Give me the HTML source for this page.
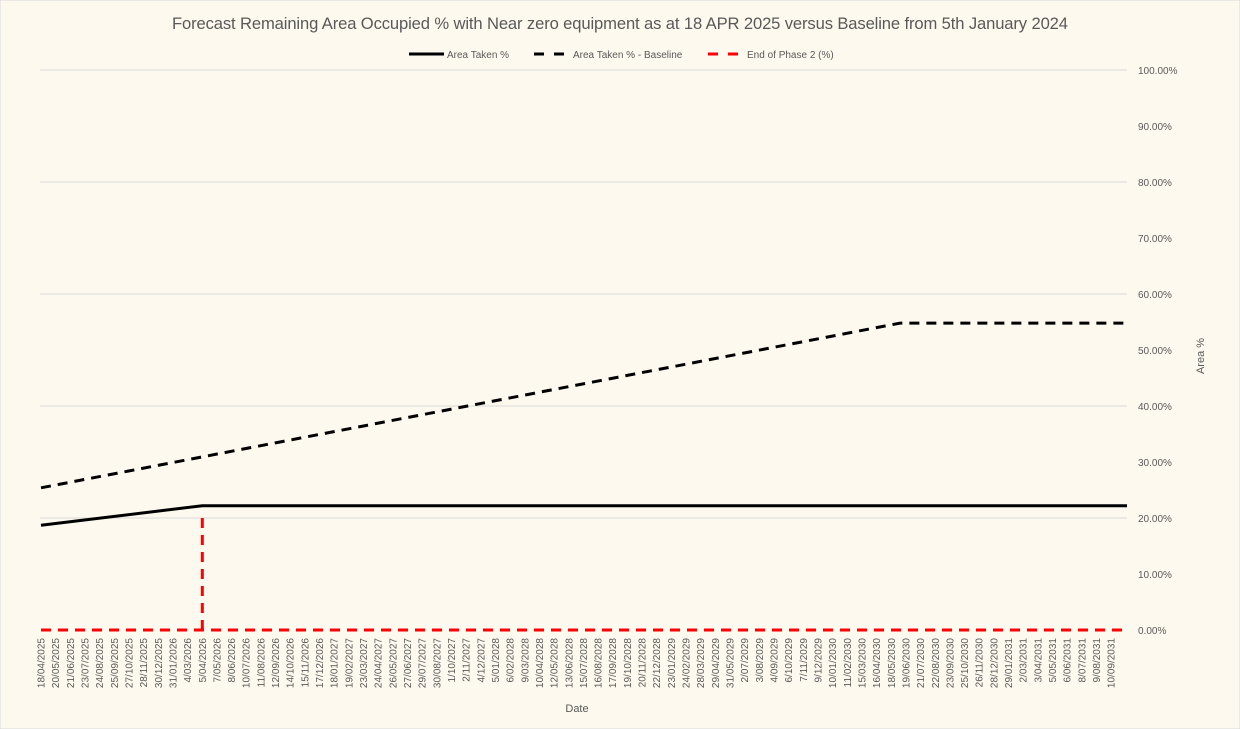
<!DOCTYPE html>
<html><head><meta charset="utf-8"><style>
html,body{margin:0;padding:0;background:#fdf9ee;}
svg{display:block;font-family:"Liberation Sans",sans-serif;}
</style></head><body>
<svg id="chart" width="1240" height="729" viewBox="0 0 1240 729">
<rect x="0" y="0" width="1240" height="729" fill="#fdf9ee" stroke="#d9d9d9"/>
<text x="620" y="29" text-anchor="middle" font-size="16.6" fill="#595959" textLength="896">Forecast Remaining Area Occupied % with Near zero equipment as at 18 APR 2025 versus Baseline from 5th January 2024</text>
<g>
<g><line x1="409" y1="54" x2="444" y2="54" stroke="#000" stroke-width="3"/><text x="447" y="58" font-size="10" fill="#595959">Area Taken %</text></g>
<g><line x1="534" y1="54" x2="568" y2="54" stroke="#000" stroke-width="3" stroke-dasharray="10,10"/><text x="573" y="58" font-size="10" fill="#595959">Area Taken % - Baseline</text></g>
<g><line x1="708" y1="54" x2="742" y2="54" stroke="#ff0000" stroke-width="3" stroke-dasharray="10,10"/><text x="747" y="58" font-size="10" fill="#595959">End of Phase 2 (%)</text></g>
</g>
<g id="grid"></g>
<g id="yticks"></g>
<g id="xticks"></g>
<g id="series"></g>
<text x="577" y="712" text-anchor="middle" font-size="11" fill="#595959">Date</text>
<text transform="translate(1204,356) rotate(-90)" text-anchor="middle" font-size="11" fill="#595959">Area %</text>
</svg>
<script>
const dateLabels = ["18/04/2025","20/05/2025","21/06/2025","23/07/2025","24/08/2025","25/09/2025","27/10/2025","28/11/2025","30/12/2025","31/01/2026","4/03/2026","5/04/2026","7/05/2026","8/06/2026","10/07/2026","11/08/2026","12/09/2026","14/10/2026","15/11/2026","17/12/2026","18/01/2027","19/02/2027","23/03/2027","24/04/2027","26/05/2027","27/06/2027","29/07/2027","30/08/2027","1/10/2027","2/11/2027","4/12/2027","5/01/2028","6/02/2028","9/03/2028","10/04/2028","12/05/2028","13/06/2028","15/07/2028","16/08/2028","17/09/2028","19/10/2028","20/11/2028","22/12/2028","23/01/2029","24/02/2029","28/03/2029","29/04/2029","31/05/2029","2/07/2029","3/08/2029","4/09/2029","6/10/2029","7/11/2029","9/12/2029","10/01/2030","11/02/2030","15/03/2030","16/04/2030","18/05/2030","19/06/2030","21/07/2030","22/08/2030","23/09/2030","25/10/2030","26/11/2030","28/12/2030","29/01/2031","2/03/2031","3/04/2031","5/05/2031","6/06/2031","8/07/2031","9/08/2031","10/09/2031"];
const yTicks = [0,10,20,30,40,50,60,70,80,90,100];
const gridTicks = [20,40,60,80,100];
// breakpoints: category index positions and values (%)
const actualIdx = [0, 11, 74.08];
const actualVal = [18.7, 22.2, 22.2];
const baselineIdx = [0, 58.6, 74.08];
const baselineVal = [25.4, 54.8, 54.8];
const phaseIdx = [11, 11];
const phaseVal = [0, 21.2];
const phaseHIdx = [0, 74.08];
const phaseHVal = [0, 0];

const NS = "http://www.w3.org/2000/svg";
const xs = i => 41 + i * 14.66;
const ys = v => 630 - v * 5.6;
function mk(tag, attrs, parent){const e=document.createElementNS(NS,tag);for(const k in attrs)e.setAttribute(k,attrs[k]);parent.appendChild(e);return e;}

const grid = document.getElementById('grid');
gridTicks.forEach(t=>{
  const l = mk('line',{x1:40,x2:1127,y1:ys(t),y2:ys(t),stroke:'#d9d9d9','stroke-width':1},grid);
  
  
});
const yt = document.getElementById('yticks');
yTicks.forEach(t=>{
  const e = mk('text',{x:1138,y:ys(t)+4,'font-size':10,fill:'#595959'},yt);
  e.textContent = t.toFixed(2)+'%';
  
  
});
const xt = document.getElementById('xticks');
dateLabels.forEach((d,i)=>{
  const x = xs(i)+3.5;
  const e = mk('text',{transform:`translate(${x},638) rotate(-90)`,'text-anchor':'end','font-size':10,fill:'#595959'},xt);
  e.textContent = d;
  
  
});
const ser = document.getElementById('series');
function path(idx, val){return idx.map((i,k)=>(k?'L':'M')+xs(i).toFixed(1)+','+ys(val[k]).toFixed(1)).join(' ');}
const p1 = mk('path',{d:path(phaseHIdx,phaseHVal),fill:'none',stroke:'#ff0000','stroke-width':3,'stroke-dasharray':'10,7'},ser);


const p2 = mk('path',{d:path(phaseIdx,phaseVal),fill:'none',stroke:'#ff0000','stroke-width':3,'stroke-dasharray':'10,7'},ser);


const p3 = mk('path',{d:path(baselineIdx,baselineVal),fill:'none',stroke:'#000','stroke-width':3,'stroke-dasharray':'10,7'},ser);


const p4 = mk('path',{d:path(actualIdx,actualVal),fill:'none',stroke:'#000','stroke-width':3},ser);


</script>
</body></html>
